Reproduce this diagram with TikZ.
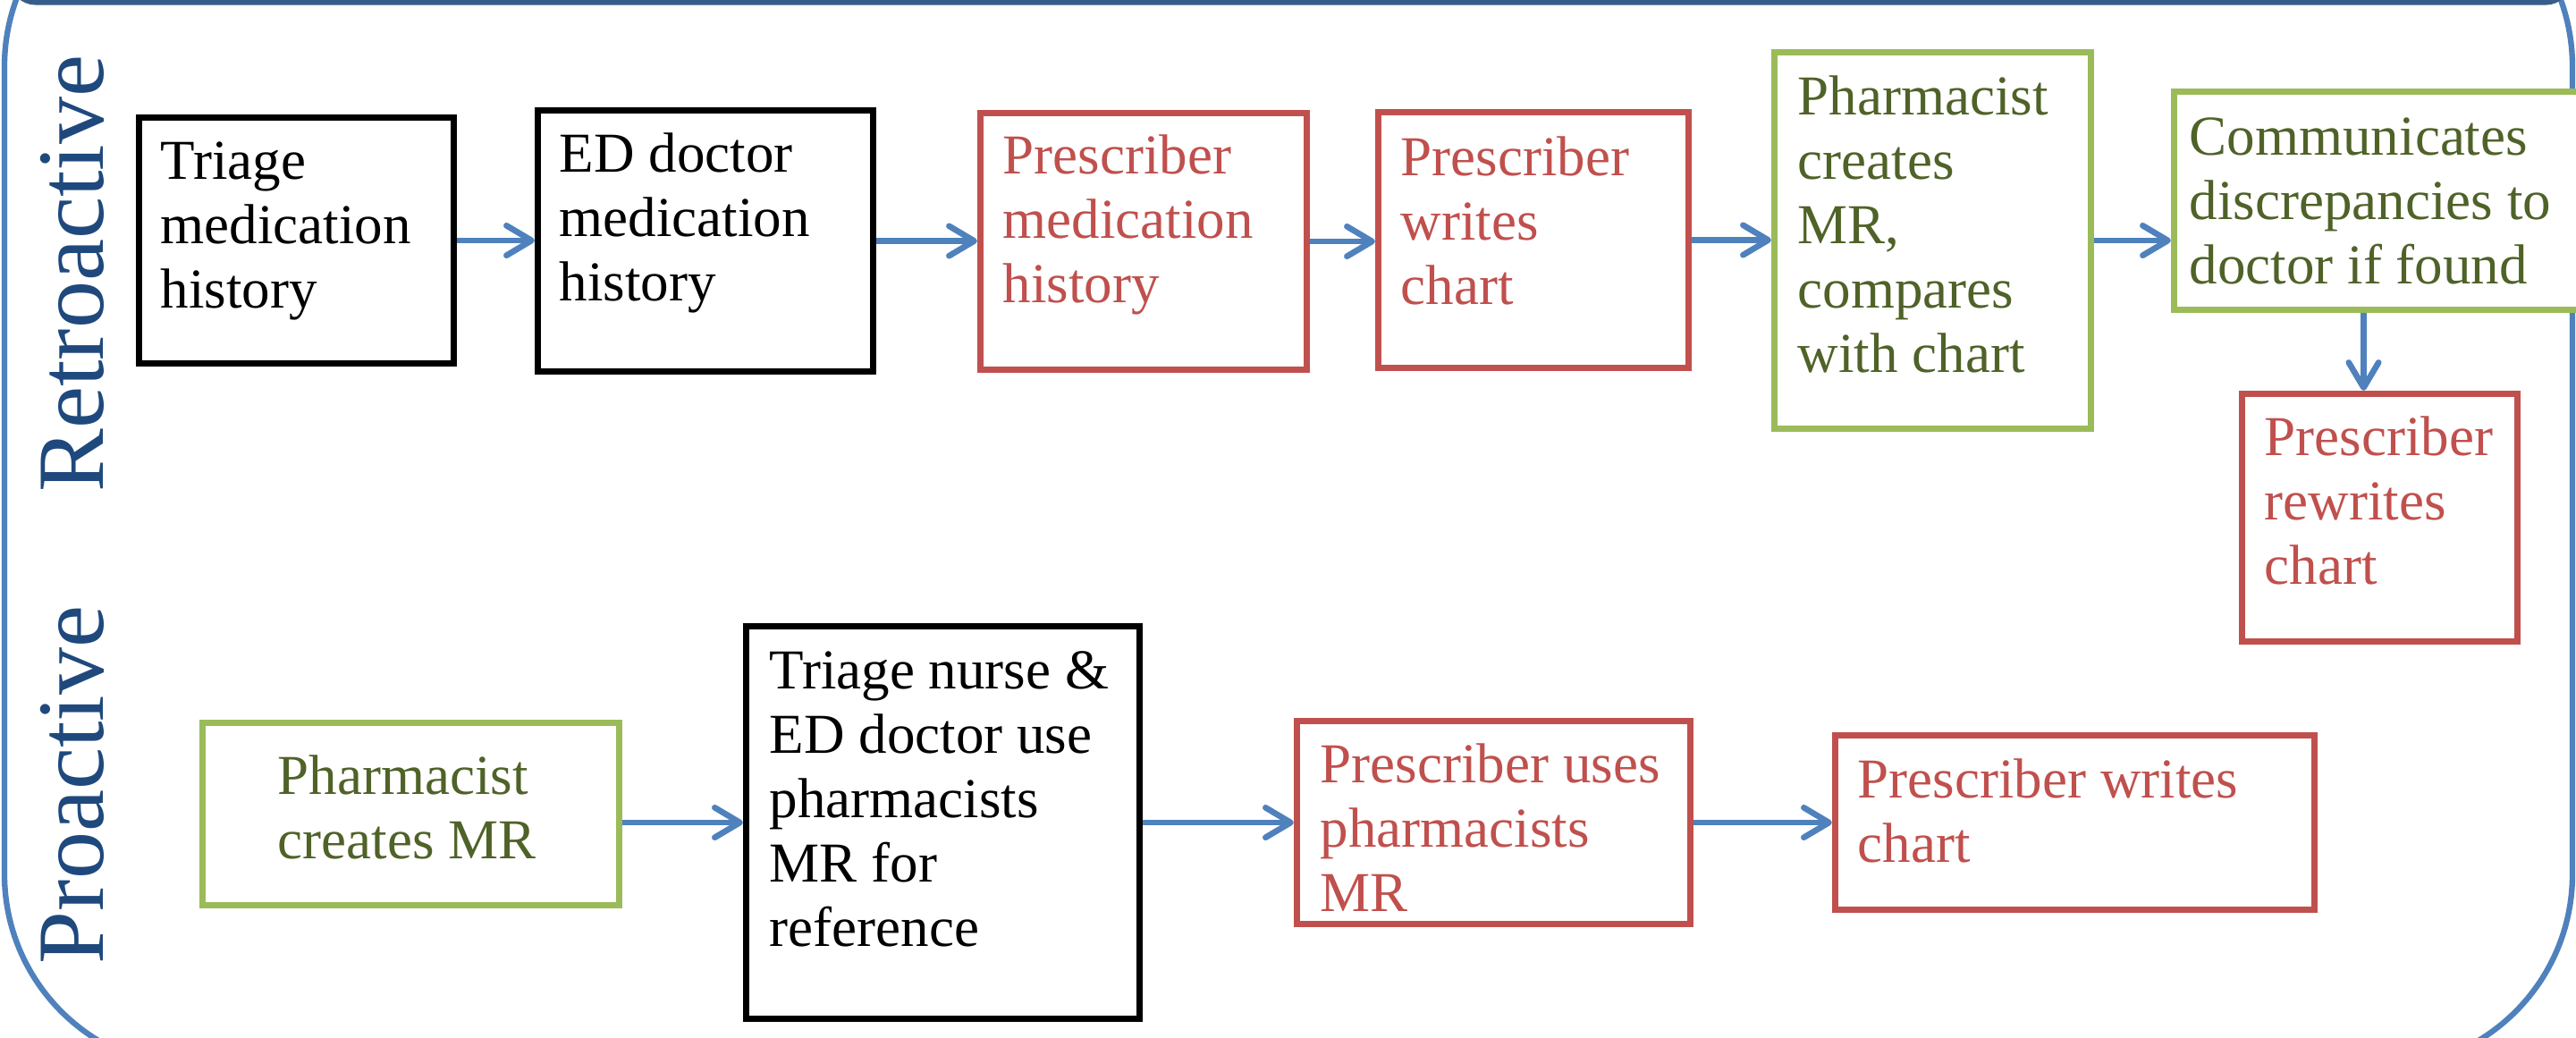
\documentclass[tikz,border=0pt]{standalone}
\usepackage{fontspec}
\setmainfont{Liberation Serif}
\usetikzlibrary{arrows.meta,calc}
\definecolor{redc}{HTML}{C0504D}
\definecolor{greenb}{HTML}{9BBB59}
\definecolor{greent}{HTML}{4F6228}
\definecolor{bluea}{HTML}{4F81BD}
\definecolor{topc}{HTML}{385D8A}
\definecolor{labc}{HTML}{1F497D}
\tikzset{
  boxbase/.style={draw, fill=white, line width=2pt, inner sep=0pt, rectangle},
  blackbox/.style={boxbase, draw=black},
  redbox/.style={boxbase, draw=redc},
  greenbox/.style={boxbase, draw=greenb},
  txt/.style={anchor=north west, inner sep=0pt, align=left, font=\fontsize{17.93}{20.49}\selectfont},
  blacktxt/.style={txt, text=black},
  redtxt/.style={txt, text=redc},
  greentxt/.style={txt, text=greent},
  lab/.style={rotate=90, anchor=base, text=labc, font=\fontsize{30.16}{34}\selectfont},
  arr/.style={draw=bluea, line width=1.9pt, -{Straight Barb[length=8pt,width=9.5pt,line cap=round,line join=round]}},
}
\begin{document}
\begin{tikzpicture}[x=0.01cm, y=-0.01cm]
\clip (0,0) rectangle (2881,1160);
\fill[white] (0,0) rectangle (2881,1160);
% frame
\draw[bluea, line width=1.8pt, rounded corners=2.17cm] (5,-143) rectangle (2877,1195);
\draw[topc, line width=2.6pt, rounded corners=0.25cm] (15,-200) rectangle (2872,1);
% labels
\node[lab] (lretro) at (115,306) {Retroactive};
\node[lab] (lpro) at (115,878) {Proactive};
% row 1 boxes
\node[blackbox, minimum width=3.52cm, minimum height=2.75cm] (tri) at (331.5,269) {};
\node[blackbox, minimum width=3.75cm, minimum height=2.92cm] (ed) at (789,269.5) {};
\node[redbox, minimum width=3.65cm, minimum height=2.87cm] (pmh) at (1279,270) {};
\node[redbox, minimum width=3.47cm, minimum height=2.86cm] (pwc) at (1715,268.5) {};
\node[greenbox, minimum width=3.54cm, minimum height=4.21cm] (ph) at (2161.5,269) {};
\node[greenbox, minimum width=4.65cm, minimum height=2.44cm] (com) at (2664,224.5) {};
\node[redbox, minimum width=3.08cm, minimum height=2.77cm] (rw) at (2661.5,579) {};
% row 2 boxes
\node[greenbox, minimum width=4.66cm, minimum height=2.04cm] (pm) at (459.5,910.5) {};
\node[blackbox, minimum width=4.40cm, minimum height=4.39cm] (tn) at (1054.5,920) {};
\node[redbox, minimum width=4.40cm, minimum height=2.27cm] (pu) at (1670.5,920) {};
\node[redbox, minimum width=5.36cm, minimum height=1.95cm] (pw2) at (2320.5,920) {};
% texts
\node[blacktxt] (ttri) at (179,149.6) {\strut Triage\\medication\\history};
\node[blacktxt] (ted) at (625,141.6) {\strut ED doctor\\medication\\history};
\node[redtxt] (tpmh) at (1121,143.6) {\strut Prescriber\\medication\\history};
\node[redtxt] (tpwc) at (1566,145.6) {\strut Prescriber\\writes\\chart};
\node[greentxt] (tph) at (2010,77.6) {\strut Pharmacist\\creates\\MR,\\compares\\with chart};
\node[greentxt] (tcom) at (2448,122.6) {\strut Communicates\\discrepancies to\\doctor if found};
\node[redtxt] (trw) at (2532,458.6) {\strut Prescriber\\rewrites\\chart};
\node[greentxt] (tpm) at (310,837.6) {\strut Pharmacist\\creates MR};
\node[blacktxt] (ttn) at (860,719.6) {\strut Triage nurse \&\\ED doctor use\\pharmacists\\MR for\\reference};
\node[redtxt] (tpu) at (1476,824.6) {\strut Prescriber uses\\pharmacists\\MR};
\node[redtxt] (tpw2) at (2077,841.6) {\strut Prescriber writes\\chart};
% arrows row 1
\draw[arr] (tri.east) -- (tri.east -| ed.west);
\draw[arr] (ed.east) -- (ed.east -| pmh.west);
\draw[arr] (pmh.east) -- (pmh.east -| pwc.west);
\draw[arr] (pwc.east) -- (pwc.east -| ph.west);
\draw[arr] (ph.east) -- (ph.east -| com.west);
\path ([xshift=-0.18cm]rw.north) coordinate (rwin);
\draw[arr] (rwin |- com.south) -- (rwin);
% arrows row 2
\draw[arr] (pm.east |- tn.west) -- (tn.west);
\draw[arr] (tn.east) -- (tn.east -| pu.west);
\draw[arr] (pu.east) -- (pu.east -| pw2.west);
\end{tikzpicture}
\end{document}
